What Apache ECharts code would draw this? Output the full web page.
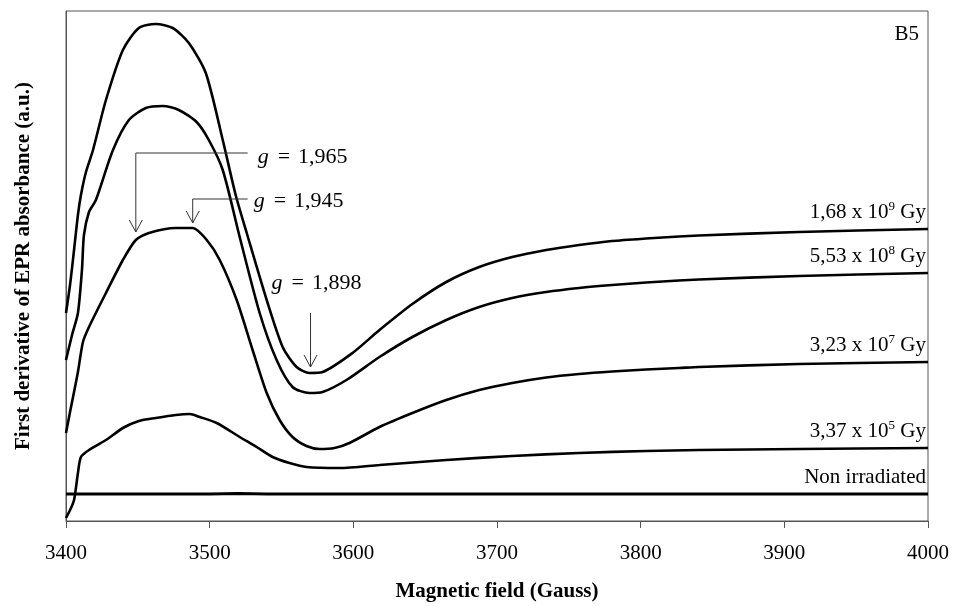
<!DOCTYPE html>
<html>
  <head>
    <meta charset="utf-8" />
    <title>EPR B5</title>
    <script src="https://cdnjs.cloudflare.com/ajax/libs/echarts/6.0.0/echarts.min.js"></script>
    <style>
      html, body { margin: 0; padding: 0; background: #fff; }
      #main { width: 956px; height: 606px; }
    </style>
  </head>
  <body>
    <div id="main"></div>
    <script type="text/javascript">
      var FONT = '"Liberation Serif", "Times New Roman", serif';

      // magnetic field (Gauss) / signal (a.u.)
      var field168e9 = [3400, 3402.8, 3405.6, 3408.3, 3410.4, 3413.9, 3418.8, 3427.8, 3439.6, 3450.7, 3462.5, 3474.3, 3485.5, 3497.3, 3509.1, 3518.1, 3525.8, 3539.7, 3550.8, 3560.5, 3569.5, 3578.6, 3599.4, 3618.2, 3641.1, 3664.7, 3687.6, 3710.6, 3734.2, 3757.1, 3780.1, 3803.7, 3826.6, 3840.5, 3910, 4000];
      var signal168e9 = [208, 236, 271, 306, 326, 349, 371, 421, 471, 493, 497, 493, 478, 448, 381, 326, 288, 221, 174, 154, 148, 149, 168, 191, 217, 239, 254, 264, 271, 276, 280, 282.5, 284.5, 285.5, 289, 292];

      var field553e8 = [3400, 3404.2, 3408.3, 3411.1, 3412.5, 3416, 3420.8, 3432.7, 3443.8, 3455.6, 3467.4, 3478.5, 3490.9, 3499.4, 3509.1, 3520.9, 3534.8, 3546.6, 3557.7, 3569.5, 3578.6, 3595.2, 3618.2, 3641.1, 3664.7, 3687.6, 3710.6, 3734.2, 3757.1, 3780.1, 3803.7, 3826.6, 3840.5, 3910, 4000];
      var signal553e8 = [161, 186, 208, 251, 286, 309, 321, 371, 401, 413, 415, 411, 399, 381, 351, 284, 208, 161, 134, 128, 129, 141, 164, 184, 201, 214, 223, 229, 233, 236, 238.5, 240.5, 241.5, 245, 248];

      var field323e7 = [3400, 3402.8, 3404.9, 3408.3, 3411.8, 3416, 3427.8, 3439.6, 3448.6, 3457.7, 3476.4, 3488.2, 3498, 3507, 3518.8, 3529.9, 3539.7, 3548.7, 3557.7, 3567.4, 3576.5, 3586.9, 3597.3, 3618.2, 3641.1, 3664.7, 3687.6, 3710.6, 3734.2, 3757.1, 3780.1, 3803.7, 3826.6, 3840.5, 3910, 4000];
      var signal323e7 = [88, 109, 124, 149, 179, 194, 228, 261, 281, 288, 293, 293, 281, 261, 221, 171, 128, 101, 84, 75, 72, 73, 78, 94, 108, 121, 131, 138, 143.5, 147, 149.5, 151.5, 153, 154, 157, 159];

      var field337e5 = [3400, 3403.5, 3405.6, 3406.9, 3408.3, 3410.4, 3416, 3427.8, 3439.6, 3450.7, 3462.5, 3476.4, 3486.2, 3493.1, 3504.9, 3520.9, 3532.7, 3543.8, 3555.6, 3567.4, 3590.4, 3618.2, 3664.7, 3710.6, 3757.1, 3803.7, 3840.5, 3910, 4000];
      var signal337e5 = [3, 13, 21, 33, 48, 64, 71, 81, 93, 100, 103, 106, 107, 104, 98, 84, 74, 64, 58, 54, 53, 56, 61, 65, 68, 70, 71, 72, 73];

      var fieldNonIrr = [3400, 3450, 3500, 3520, 3540, 3600, 3700, 3800, 3900, 4000];
      var signalNonIrr = [27, 27, 27, 27.6, 27, 27, 27, 27, 27, 27];

      // end labels: mantissa, exponent
      var doseLabels = [
        ['1,68 x 10', '9'],
        ['5,53 x 10', '8'],
        ['3,23 x 10', '7'],
        ['3,37 x 10', '5']
      ];

      // g-value annotations: text, text anchor [field, signal], leader path (last point = arrow tip)
      var gTexts = ['1,965', '1,945', '1,898'];
      var gTextAt = [[3533.4, 364], [3530.6, 320], [3543.1, 238]];
      var gPaths = [
        [[3526.4, 368], [3448.6, 368], [3448.6, 289]],
        [[3526.4, 322], [3488.2, 322], [3488.2, 298]],
        [[3570.2, 208], [3570.2, 154]]
      ];

      function zip(xs, ys) {
        return xs.map(function (x, i) { return [x, ys[i]]; });
      }

      var richStyle = {
        a: { fontFamily: FONT, fontSize: 21, color: '#000' },
        s: { fontFamily: FONT, fontSize: 13, color: '#000', verticalAlign: 'top', padding: [0, 0, 12, 0] }
      };

      function curve(data, fmt) {
        return {
          type: 'line',
          data: data,
          showSymbol: false,
          smooth: 0.25,
          lineStyle: { color: '#000', width: 2.6 },
          animation: false,
          endLabel: {
            show: true,
            formatter: fmt,
            rich: richStyle,
            align: 'right',
            verticalAlign: 'bottom',
            offset: [-10, -4]
          },
          z: 3
        };
      }

      var series = [
        curve(zip(field168e9, signal168e9), '{a|' + doseLabels[0][0] + '}{s|' + doseLabels[0][1] + '}{a| Gy}'),
        curve(zip(field553e8, signal553e8), '{a|' + doseLabels[1][0] + '}{s|' + doseLabels[1][1] + '}{a| Gy}'),
        curve(zip(field323e7, signal323e7), '{a|' + doseLabels[2][0] + '}{s|' + doseLabels[2][1] + '}{a| Gy}'),
        curve(zip(field337e5, signal337e5), '{a|' + doseLabels[3][0] + '}{s|' + doseLabels[3][1] + '}{a| Gy}'),
        curve(zip(fieldNonIrr, signalNonIrr), '{a|Non irradiated}')
      ];
      series[4].smooth = false;
      series[4].lineStyle.width = 3;
      series[4].endLabel.offset = [-10, -6];

      // g-value leaders with open arrowheads
      series.push({
        type: 'custom',
        animation: false,
        silent: true,
        z: 5,
        data: gTexts.map(function (t, i) { return i; }),
        renderItem: function (params, api) {
          var i = api.value(0);
          var pts = gPaths[i].map(function (p) { return api.coord(p); });
          var tip = pts[pts.length - 1];
          var txt = api.coord(gTextAt[i]);
          return {
            type: 'group',
            children: [
              {
                type: 'polyline',
                shape: { points: pts },
                style: { stroke: '#333', lineWidth: 1, fill: null }
              },
              {
                type: 'polyline',
                shape: { points: [[tip[0] - 6.5, tip[1] - 12], tip, [tip[0] + 6.5, tip[1] - 12]] },
                style: { stroke: '#333', lineWidth: 1, fill: null }
              },
              {
                type: 'text',
                x: txt[0],
                y: txt[1],
                style: {
                  text: '{g|g}{e|=}{n|' + gTexts[i] + '}',
                  verticalAlign: 'middle',
                  align: 'left',
                  rich: {
                    g: { fontFamily: FONT, fontSize: 22, fontStyle: 'italic', fill: '#000', padding: [0, 9, 0, 0] },
                    e: { fontFamily: FONT, fontSize: 22, fill: '#000', padding: [0, 8, 0, 0] },
                    n: { fontFamily: FONT, fontSize: 22, fill: '#000' }
                  }
                }
              }
            ]
          };
        }
      });

      var chart = echarts.init(document.getElementById('main'));
      chart.setOption({
        backgroundColor: '#fff',
        animation: false,
        title: {
          text: 'B5',
          right: 32,
          top: 19,
          textStyle: { fontFamily: FONT, fontSize: 21, fontWeight: 'normal', color: '#000' }
        },
        grid: {
          left: 66, right: 28, top: 11, bottom: 85,
          containLabel: false,
          outerBoundsMode: 'none',
          show: true, borderColor: '#555', borderWidth: 1
        },
        xAxis: {
          type: 'value',
          min: 3400,
          max: 4000,
          interval: 100,
          name: 'Magnetic field (Gauss)',
          nameLocation: 'middle',
          nameGap: 60,
          nameTextStyle: { fontFamily: FONT, fontSize: 21, fontWeight: 'bold', color: '#000' },
          axisLine: { lineStyle: { color: '#555', width: 1 } },
          axisTick: { show: true, length: 7, lineStyle: { color: '#555' } },
          axisLabel: {
            fontFamily: FONT, fontSize: 21, color: '#000', margin: 22,
            formatter: function (v) { return String(v); }
          },
          splitLine: { show: false }
        },
        yAxis: {
          type: 'value',
          min: 0,
          max: 510,
          name: 'First derivative of EPR absorbance (a.u.)',
          nameLocation: 'middle',
          nameGap: 32,
          nameTextStyle: { fontFamily: FONT, fontSize: 21, fontWeight: 'bold', color: '#000' },
          axisLine: { show: true, lineStyle: { color: '#555', width: 1 } },
          axisTick: { show: false },
          axisLabel: { show: false },
          splitLine: { show: false }
        },
        series: series
      });
    </script>
  </body>
</html>
